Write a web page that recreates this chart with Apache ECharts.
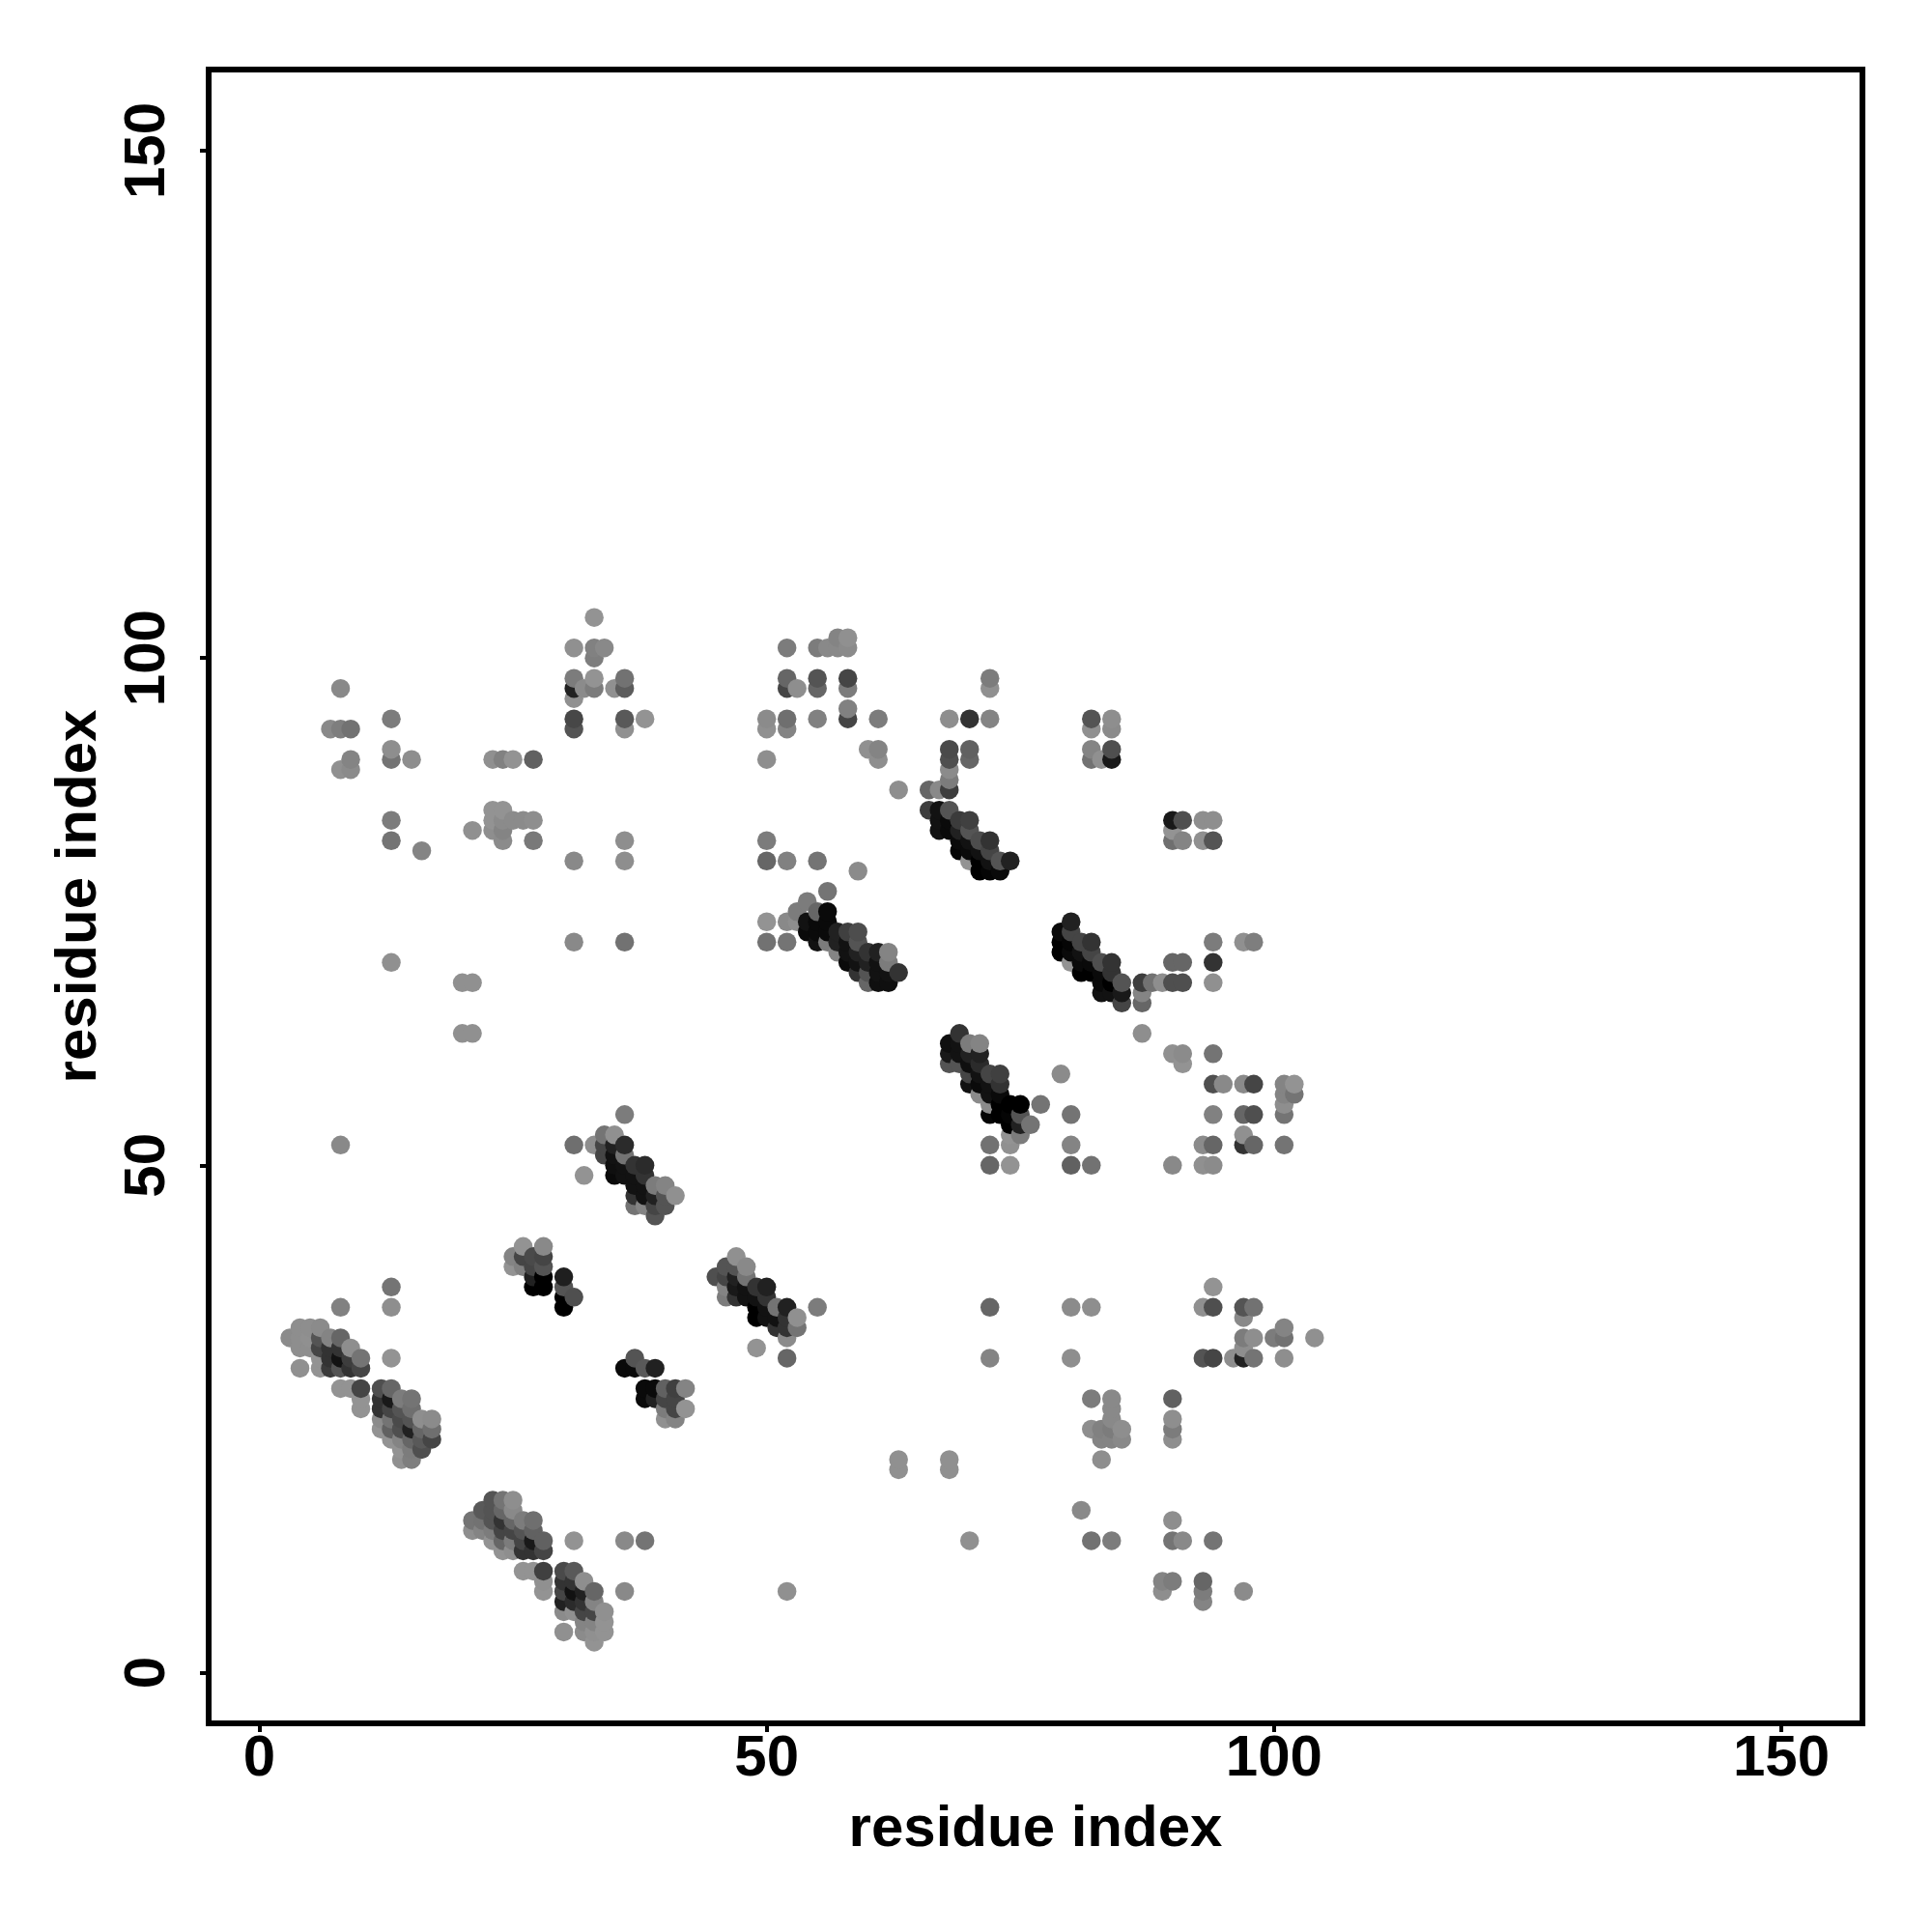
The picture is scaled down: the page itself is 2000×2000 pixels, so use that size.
<!DOCTYPE html>
<html>
<head>
<meta charset="utf-8">
<script src="https://cdn.jsdelivr.net/npm/echarts@6/dist/echarts.min.js"></script>
<style>html,body{margin:0;padding:0;background:#fff}#chart{width:2000px;height:2000px}</style>
</head>
<body>
<div id="chart"></div>
<script>
// Each contact: [residue i, residue j, strength 0-100]
const tickValues = [0, 50, 100, 150];
const axisTitle = 'residue index';

const helixNearOrigin = [
[3,33,47],[4,34,46],[5,34,46],[6,34,47],[4,33,46],[5,33,45],[6,33,67],[7,33,50],[8,33,60],
[4,32,46],[5,32,46],[6,32,73],[7,32,80],[8,32,80],[9,32,46],
[6,31,44],[7,31,80],[8,31,93],[9,31,76],[10,31,56],
[4,30,45],[6,30,44],[7,30,77],[8,30,67],[9,30,80],[10,30,73],
[8,28,44],[9,28,44],[10,28,73],[12,28,69],[13,28,60],
[10,27,44],[12,27,80],[13,27,90],[14,27,53],[15,27,56],
[10,26,44],[12,26,80],[13,26,73],[14,26,67],[15,26,58],
[12,25,47],[13,25,56],[14,25,71],[15,25,67],[16,25,46],[17,25,47],
[12,24,44],[13,24,62],[14,24,69],[15,24,87],[16,24,60],[17,24,58],
[13,23,44],[14,23,50],[15,23,60],[16,23,65],[17,23,73],
[14,22,44],[15,22,53],[16,22,69],[14,21,45],[15,21,52]
];
const helixLow = [
[23,17,67],[24,17,56],[25,17,46],
[22,16,65],[23,16,67],[24,16,60],[25,16,48],
[21,15,56],[22,15,57],[23,15,67],[24,15,80],[25,15,60],[26,15,53],[27,15,58],
[21,14,46],[22,14,50],[23,14,53],[24,14,73],[25,14,73],[26,14,67],[27,14,62],
[23,13,44],[24,13,60],[25,13,53],[26,13,73],[27,13,90],[28,13,62],
[24,12,44],[25,12,46],[26,12,80],[27,12,80],[28,12,73],
[26,10,44],[27,10,44],[28,10,75],[30,10,71],[31,10,65],
[28,9,45],[30,9,80],[31,9,80],[32,9,46],
[28,8,44],[30,8,73],[31,8,93],[32,8,87],[33,8,60],[36,8,48],
[30,7,87],[31,7,83],[32,7,80],[33,7,50],
[30,6,47],[31,6,45],[32,6,73],[33,6,73],[34,6,45],
[32,5,50],[33,5,50],[34,5,44],
[30,4,45],[32,4,47],[33,4,45],[34,4,44],[33,3,44],
[31,13,44],[36,13,48],[38,13,56]
];
const strandMiddle = [
[26,42,44],[28,42,48],[25,41,50],[26,41,73],[27,41,71],[28,41,73],
[25,40,44],[26,40,51],[27,40,73],[28,40,67],
[27,39,87],[28,39,100],[30,39,88],[27,38,100],[28,38,100],[30,38,67],
[30,37,100],[31,37,69],[30,36,100],
[13,38,56],[13,36,46],[8,36,51],[13,31,44],
[37,31,67],[36,30,96],[37,30,96],[38,30,65],[39,30,87],
[38,28,96],[39,28,96],[40,28,62],[41,28,75],[42,28,50],
[38,27,96],[39,27,87],[40,27,73],[41,27,73],
[40,26,53],[41,26,73],[42,26,44],[40,25,45],[41,25,50]
];
const strandCentre = [
[47,41,45],[46,40,67],[47,40,67],[48,40,48],
[45,39,69],[46,39,73],[47,39,87],[48,39,56],
[46,38,50],[47,38,90],[48,38,93],[49,38,80],[50,38,87],
[46,37,53],[47,37,80],[48,37,93],[49,37,93],[50,37,80],
[49,36,100],[50,36,93],[51,36,56],[52,36,87],[55,36,53],
[49,35,100],[50,35,93],[51,35,93],[52,35,80],[53,35,45],
[51,34,80],[52,34,80],[53,34,56],[52,33,47],[49,32,44],[52,31,60],
[63,21,45],[63,20,45],[68,21,45],[68,20,45],[70,13,45],[52,8,45],[72,36,60],[72,31,50]
];
const strandUpper = [
[36,55,53],[34,53,56],[35,53,45],[31,52,58],[33,52,46],[34,52,73],[35,52,87],[36,52,83],
[34,51,73],[35,51,93],[36,51,56],[35,50,94],[36,50,93],[37,50,80],[38,50,83],
[32,49,44],[35,49,96],[36,49,93],[37,49,93],[38,49,80],
[37,48,93],[38,48,93],[39,48,53],[40,48,50],
[37,47,80],[38,47,93],[39,47,87],[40,47,67],[41,47,45],
[37,46,56],[38,46,50],[39,46,73],[40,46,67],[39,45,67],[8,52,48]
];
const helixSeventy = [
[68,62,94],[69,63,80],[69,62,93],[70,62,53],[71,62,50],
[68,61,90],[69,61,93],[70,61,87],[71,61,87],
[68,60,67],[69,60,67],[70,60,94],[71,60,83],
[70,59,73],[71,59,93],[72,59,73],[73,59,75],
[70,58,93],[71,58,96],[72,58,93],[73,58,80],
[71,57,47],[72,57,93],[73,57,96],
[72,56,47],[73,56,100],[74,56,100],[75,56,100],[77,56,56],
[72,55,98],[73,55,100],[74,55,98],[75,55,67],
[74,54,100],[75,54,87],[76,54,56],[74,53,44],[75,53,53],
[72,52,57],[74,52,45],[72,50,60],[74,50,44],
[79,59,47],[80,55,56],[80,52,50],[80,50,62],[82,50,57]
];
const helixFiftyFive = [
[56,77,56],[54,76,53],[53,75,53],[55,75,60],[56,75,96],
[50,74,44],[52,74,48],[53,74,46],[54,74,93],[55,74,96],[56,74,96],
[54,73,96],[55,73,96],[56,73,96],[57,73,87],[58,73,75],[59,73,70],
[50,72,57],[52,72,56],[55,72,93],[56,72,53],[57,72,87],[58,72,93],[59,72,67],
[57,71,50],[58,71,93],[59,71,87],[60,71,80],[61,71,87],[62,71,50],
[58,70,96],[59,70,93],[60,70,87],[61,70,93],[62,70,53],
[59,69,80],[60,69,67],[61,69,93],[62,69,93],[63,69,80],
[60,68,60],[61,68,94],[62,68,94]
];
const helixEighty = [
[66,85,76],[67,85,93],[68,85,67],
[67,84,93],[68,84,96],[69,84,77],[70,84,75],
[67,83,93],[68,83,96],[69,83,87],[70,83,67],
[69,82,96],[70,82,93],[71,82,70],[72,82,80],
[69,81,98],[70,81,96],[71,81,93],[72,81,73],
[70,80,44],[71,80,100],[72,80,93],[73,80,67],[74,80,87],
[71,79,100],[72,79,98],[73,79,96],
[66,87,60],[67,87,48],[68,87,76],[68,88,53],[68,89,47],[68,90,69],[68,91,71],
[70,91,62],[70,90,60],[68,94,46],[70,94,80],[72,94,50],[72,98,53],[72,97,45],
[63,87,46]
];
const helixEightyFive = [
[80,74,87],[79,73,96],[80,73,73],
[79,72,100],[80,72,98],[81,72,73],[82,72,80],
[79,71,100],[80,71,96],[81,71,93],[82,71,73],
[80,70,44],[81,70,96],[82,70,96],[83,70,69],[84,70,80],
[81,69,100],[82,69,100],[83,69,96],[84,69,80],
[83,68,96],[84,68,100],[85,68,67],[83,67,93],[84,67,93],[85,67,90],[85,66,73],
[87,68,76],[88,68,57],[89,68,46],[90,68,69],[91,68,69],[94,68,45],
[87,67,50],[87,66,60],[90,70,60],[91,70,60],[94,70,80],
[94,72,53],[97,72,45],[98,72,52],[87,63,46]
];
const contactsUpperLeft = [
[33,104,44],[31,101,45],[33,101,51],[34,101,48],[33,100,52],
[31,98,53],[33,98,44],[36,98,57],
[31,97,87],[32,97,47],[33,97,53],[35,97,45],[36,97,64],[31,96,45],
[31,94,72],[36,94,65],[38,94,44],[31,93,67],[36,93,45],
[8,97,48],[13,94,53],[7,93,48],[8,93,52],[9,93,57],
[13,91,46],[13,90,56],[15,90,46],[9,90,50],[8,89,45],[9,89,47],
[23,90,45],[24,90,51],[25,90,44],[27,90,62],
[23,85,44],[24,85,44],[23,84,44],[24,84,47],[25,84,47],[26,84,47],[27,84,46],
[21,83,45],[23,83,46],[24,83,50],[24,82,47],[27,82,54],
[13,84,53],[13,82,56],[16,81,50],
[36,82,46],[31,80,48],[36,80,46],[31,72,48],[36,72,57],
[13,70,45],[20,68,45],[21,68,45],[20,63,45],[21,63,45]
];
const contactsUpperMiddle = [
[52,101,53],[55,101,53],[56,101,48],[57,101,48],[58,101,47],[57,102,50],[58,102,45],
[52,98,60],[55,98,67],[58,98,73],[52,97,73],[53,97,46],[55,97,60],[58,97,53],[58,95,51],
[50,94,47],[52,94,58],[55,94,51],[58,94,73],[61,94,53],[50,93,45],[52,93,50],
[60,91,45],[61,91,50],[61,90,46],[50,90,46],
[82,94,67],[84,94,46],[82,93,45],[84,93,47],[82,91,50],[84,91,69],[82,90,57],[83,90,45],[84,90,90],
[50,82,53],[50,80,60],[52,80,51],[55,80,56],[59,79,47]
];
const contactsRight = [
[90,84,90],[91,84,69],[93,84,46],[94,84,46],[90,83,44],[90,82,58],[91,82,50],[93,82,45],[94,82,67],
[90,61,45],[91,61,47],[94,61,56],[91,60,44],
[94,58,69],[95,58,48],[97,58,48],[98,58,73],[101,58,50],[102,58,44],[101,57,50],[102,57,56],[101,56,46],
[94,55,51],[97,55,60],[98,55,69],[101,55,56],[97,53,45],
[93,52,47],[94,52,60],[97,52,80],[98,52,60],[101,52,56],[90,50,48],[93,50,45],[94,50,47]
];
const contactsLowerRight = [
[80,36,47],[82,36,46],[80,31,46],
[94,38,44],[93,36,45],[94,36,69],[97,36,67],[98,36,57],[97,35,48],
[101,34,50],[97,33,53],[98,33,46],[100,33,53],[101,33,57],[104,33,45],[97,32,46],
[93,31,67],[94,31,73],[96,31,46],[97,31,87],[98,31,56],[101,31,46],
[82,27,53],[84,27,48],[84,26,48],[84,25,48],[90,27,62],[90,25,46],[90,24,53],[90,23,46],
[82,24,46],[83,24,51],[84,24,53],[85,24,46],[83,23,50],[84,23,50],[85,23,48],[83,21,46],
[81,16,48],[82,13,57],[84,13,53],[90,15,46],[90,13,56],[91,13,48],[94,13,56],
[89,9,50],[90,9,53],[93,9,60],[89,8,46],[93,8,53],[93,7,50],[97,8,47]
];

const contacts = [].concat(
  helixNearOrigin, helixLow, strandMiddle, strandCentre, strandUpper,
  helixSeventy, helixFiftyFive, helixEighty, helixEightyFive,
  contactsUpperLeft, contactsUpperMiddle, contactsRight, contactsLowerRight
).sort((a, b) => a[0] - b[0] || a[1] - b[1]);

const labelFont = '"Liberation Sans", Arial, sans-serif';
const baseAxis = {
  type: 'value', min: -5, max: 158,
  splitLine: { show: false },
  axisLine: { show: false, onZero: false },
  axisTick: { show: true, customValues: tickValues, length: 9, inside: false, lineStyle: { color: '#000', width: 4 } },
  name: axisTitle, nameLocation: 'middle',
  nameTextStyle: { color: '#000', fontFamily: labelFont, fontWeight: 'bold', fontSize: 60 }
};
const chart = echarts.init(document.getElementById('chart'), null, { renderer: 'canvas' });
chart.setOption({
  animation: false,
  backgroundColor: '#fff',
  grid: { show: true, left: 216, top: 72, width: 1712, height: 1712, borderColor: '#000', borderWidth: 6, backgroundColor: 'transparent' },
  xAxis: Object.assign({}, baseAxis, {
    axisLabel: { customValues: tickValues, margin: 7, color: '#000', fontFamily: labelFont, fontWeight: 'bold', fontSize: 60 },
    nameGap: 80
  }),
  yAxis: Object.assign({}, baseAxis, {
    axisLabel: { customValues: tickValues, rotate: 90, margin: 33, color: '#000', fontFamily: labelFont, fontWeight: 'bold', fontSize: 60 },
    nameGap: 104
  }),
  series: [{
    type: 'scatter',
    symbol: 'circle',
    symbolSize: 19.5,
    data: contacts,
    itemStyle: {
      opacity: 1,
      color: p => {
        const s = p.value[2];
        const g = Math.round(255 * (1 - s / 100)) + (s < 60 ? 4 : 0);
        return `rgb(${g},${g},${g})`;
      }
    }
  }]
});
</script>
</body>
</html>
